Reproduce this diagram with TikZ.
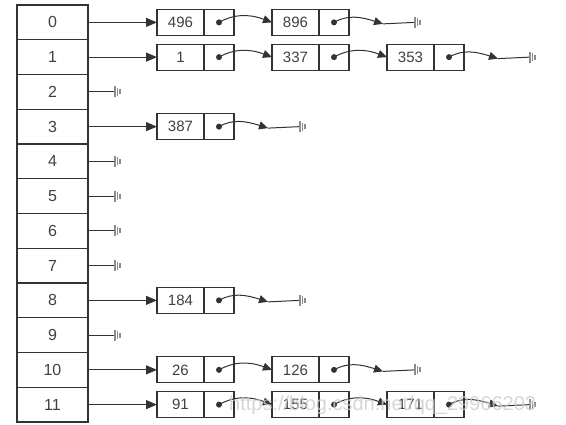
\documentclass[tikz,border=0pt]{standalone}
\usepackage{fontspec}
\setmainfont{Liberation Sans}
\usetikzlibrary{arrows.meta,positioning}
\definecolor{linec}{HTML}{333333}
\definecolor{textc}{HTML}{404040}
\definecolor{nullc}{HTML}{8C8C8C}
\begin{document}
\begin{tikzpicture}[x=1pt,y=-1pt,
  cell/.style={draw=linec, line width=1.1pt, minimum width=71pt, minimum height=34.75pt, inner sep=0pt, outer sep=0pt, text=textc, font=\fontsize{16}{16}\selectfont},
  dat/.style={draw=linec, line width=1.1pt, minimum width=47pt, minimum height=26pt, inner sep=0pt, outer sep=0pt, text=textc, font=\fontsize{15}{15}\selectfont},
  ptr/.style={draw=linec, line width=1.1pt, minimum width=30pt, minimum height=26pt, inner sep=0pt, outer sep=0pt},
  arr/.style={draw=linec, line width=1pt, -{Triangle[length=11pt,width=9pt]}},
  parr/.style={draw=linec, line width=1pt, -{Triangle[length=9pt,width=8pt]}},
  link/.style={draw=linec, line width=1pt},
  gnd/.pic={\draw[nullc, line width=1.3pt] (0,-5.5)--(0,5.5) (2.5,-4)--(2.5,4) (5,-2.5)--(5,2.5);}
]
\useasboundingbox (0,0) rectangle (566,425);

% array cells
\node[cell] (a0) at (52.5,22.375) {0};
\node[cell] (a1) at (52.5,57.125) {1};
\node[cell] (a2) at (52.5,91.875) {2};
\node[cell] (a3) at (52.5,126.625) {3};
\node[cell] (a4) at (52.5,161.375) {4};
\node[cell] (a5) at (52.5,196.125) {5};
\node[cell] (a6) at (52.5,230.875) {6};
\node[cell] (a7) at (52.5,265.625) {7};
\node[cell] (a8) at (52.5,300.375) {8};
\node[cell] (a9) at (52.5,335.125) {9};
\node[cell] (a10) at (52.5,369.875) {10};
\node[cell] (a11) at (52.5,404.625) {11};

% list nodes
\node[dat] (n0a) at (180.5,22.375) {496};  \node[ptr, right=0pt of n0a] (p0a) {};
\node[dat] (n0b) at (295.5,22.375) {896};  \node[ptr, right=0pt of n0b] (p0b) {};

\node[dat] (n1a) at (180.5,57.125) {1};    \node[ptr, right=0pt of n1a] (p1a) {};
\node[dat] (n1b) at (295.5,57.125) {337};  \node[ptr, right=0pt of n1b] (p1b) {};
\node[dat] (n1c) at (410.5,57.125) {353};  \node[ptr, right=0pt of n1c] (p1c) {};

\node[dat] (n3a) at (180.5,126.625) {387}; \node[ptr, right=0pt of n3a] (p3a) {};

\node[dat] (n8a) at (180.5,300.375) {184}; \node[ptr, right=0pt of n8a] (p8a) {};

\node[dat] (n10a) at (180.5,369.875) {26};  \node[ptr, right=0pt of n10a] (p10a) {};
\node[dat] (n10b) at (295.5,369.875) {126}; \node[ptr, right=0pt of n10b] (p10b) {};

\node[dat] (n11a) at (180.5,404.625) {91};  \node[ptr, right=0pt of n11a] (p11a) {};
\node[dat] (n11b) at (295.5,404.625) {155}; \node[ptr, right=0pt of n11b] (p11b) {};
\node[dat] (n11c) at (410.5,404.625) {171}; \node[ptr, right=0pt of n11c] (p11c) {};

% dots
\foreach \p in {p0a,p0b,p1a,p1b,p1c,p3a,p8a,p10a,p10b,p11a,p11b,p11c}
  \fill[linec] (\p.center) circle (3pt);

% array -> first node
\draw[arr] (a0.east) -- (n0a.west);
\draw[arr] (a1.east) -- (n1a.west);
\draw[arr] (a3.east) -- (n3a.west);
\draw[arr] (a8.east) -- (n8a.west);
\draw[arr] (a10.east) -- (n10a.west);
\draw[arr] (a11.east) -- (n11a.west);

% empty slots
\foreach \r in {2,4,5,6,7,9}{
  \coordinate[right=27pt of a\r] (z\r);
  \draw[link] (a\r.east) -- (z\r);
  \pic at (z\r) {gnd};
}

% node -> node pointers
\draw[parr] (p0a.center) .. controls +(14,-8) and +(-24,-9) .. (n0b.west);
\draw[parr] (p1a.center) .. controls +(14,-8) and +(-24,-9) .. (n1b.west);
\draw[parr] (p1b.center) .. controls +(14,-8) and +(-24,-9) .. (n1c.west);
\draw[parr] (p10a.center) .. controls +(14,-8) and +(-24,-9) .. (n10b.west);
\draw[parr] (p11a.center) .. controls +(14,-8) and +(-24,-9) .. (n11b.west);
\draw[parr] (p11b.center) .. controls +(14,-8) and +(-24,-9) .. (n11c.west);

% null terminators
\foreach \p in {p0b,p1c,p3a,p8a,p10b,p11c}{
  \coordinate[right=34pt of \p] (e\p);
  \coordinate[right=66pt of \p] (g\p);
  \draw[parr] (\p.center) .. controls +(14,-8) and +(-22,-7) .. ([yshift=-1.5pt]e\p);
  \draw[link] ([yshift=-1.5pt]e\p) -- (g\p);
  \pic at (g\p) {gnd};
}

% watermark
\node[anchor=west, text=black!20, opacity=0.8, font=\fontsize{20}{20}\selectfont, inner sep=0pt] (wm) at (229,405) {https://blog.csdn.net/qq\_29966203};
\end{tikzpicture}
\end{document}
